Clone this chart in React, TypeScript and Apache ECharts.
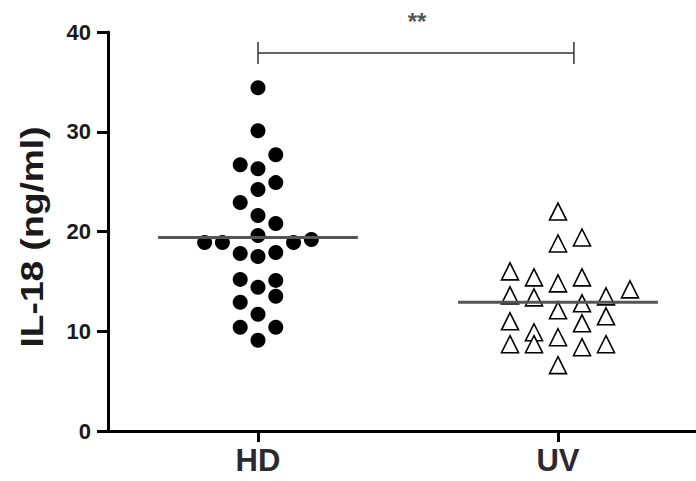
import React, { useEffect, useRef } from "react";
import * as echarts from "echarts";

const categories = ["HD", "UV"];
const yTicks = [0, 10, 20, 30, 40];

const hdValues = [34.4, 30.1, 27.7, 26.7, 26.3, 24.9, 24.2, 22.9, 21.6, 20.8, 19.6, 18.9, 18.9, 18.9, 19.2, 17.8, 17.5, 17.9, 15.2, 14.4, 15.1, 13.5, 12.9, 11.7, 10.4, 10.4, 9.1];
const hdSlots = [0, 0, 1, -1, 0, 1, 0, -1, 0, 1, 0, -3, -2, 2, 3, -1, 0, 1, -1, 0, 1, 1, -1, 0, -1, 1, 0];

const uvValues = [22.0, 18.8, 19.4, 16.0, 15.4, 14.8, 15.4, 14.2, 13.6, 13.4, 13.5, 12.8, 12.1, 11.5, 11.0, 10.8, 9.9, 9.4, 8.7, 8.7, 8.4, 8.7, 6.6];
const uvSlots = [0, 0, 1, -2, -1, 0, 1, 3, -2, -1, 2, 1, 0, 2, -2, 1, -1, 0, -2, -1, 1, 2, 0];

const medians = [19.4, 12.9];
const bracketLevel = 37.9;
const bracketEnds = [1.0, 2.053];
const significance = "**";

const HD_STEP = 0.0593;
const UV_STEP = 0.08;
const MEDIAN_HALF = 0.333;
const BRACKET_TICK = 1.1;

const FONT = "'Liberation Sans', Arial, sans-serif";

export default function App() {
  const ref = useRef<HTMLDivElement>(null);
  useEffect(() => {
    if (!ref.current) return;
    const chart = echarts.init(ref.current, undefined, { renderer: "svg" });

    const lineSeries = (pts: number[][], color: string, width: number) => ({
      type: "line",
      data: pts,
      showSymbol: false,
      symbol: "none",
      silent: true,
      z: 5,
      clip: false,
      lineStyle: { color, width },
    });

    chart.setOption({
      animation: false,
      backgroundColor: "#ffffff",
      grid: { left: 108, right: 0, top: 32, bottom: 50 },
      xAxis: {
        type: "value",
        min: 0.5,
        max: 2.46,
        splitLine: { show: false },
        axisLine: { show: true, onZero: true, lineStyle: { color: "#000", width: 3 } },
        axisTick: { show: true, customValues: [1, 2], length: 11, lineStyle: { color: "#000", width: 3 } },
        axisLabel: {
          customValues: [1, 2],
          formatter: (v: number) => categories[Math.round(v) - 1] ?? "",
          fontFamily: FONT,
          fontWeight: "bold",
          fontSize: 31,
          color: "#2a2a33",
          margin: 14,
        },
      },
      yAxis: {
        type: "value",
        min: yTicks[0],
        max: yTicks[yTicks.length - 1],
        interval: 10,
        splitLine: { show: false },
        axisLine: { show: true, onZero: false, lineStyle: { color: "#000", width: 3 } },
        axisTick: { show: true, length: 11, lineStyle: { color: "#000", width: 3 } },
        axisLabel: {
          fontFamily: FONT,
          fontWeight: "bold",
          fontSize: 22,
          color: "#1a1a1a",
          margin: 17,
        },
      },
      graphic: [
        {
          type: "text",
          x: 32,
          y: 237,
          rotation: Math.PI / 2,
          scaleX: 1.2,
          style: {
            text: "IL-18 (ng/ml)",
            font: `bold 31px ${FONT}`,
            fill: "#1a1a1a",
            textAlign: "center",
            textVerticalAlign: "middle",
          },
        },
        {
          type: "text",
          x: 417,
          y: 21,
          style: {
            text: significance,
            font: `bold 24px ${FONT}`,
            fill: "#555",
            textAlign: "center",
            textVerticalAlign: "middle",
          },
        },
      ],
      series: [
        {
          type: "scatter",
          symbol: "circle",
          symbolSize: 15,
          z: 3,
          itemStyle: { color: "#000", opacity: 1 },
          data: hdValues.map((v, i) => [1 + hdSlots[i] * HD_STEP, v]),
        },
        {
          type: "scatter",
          symbol: "triangle",
          symbolSize: 17,
          z: 3,
          itemStyle: { color: "#fff", borderColor: "#000", borderWidth: 1.6, opacity: 1 },
          data: uvValues.map((v, i) => [2 + uvSlots[i] * UV_STEP, v]),
        },
        ...medians.map((m, i) =>
          lineSeries([[i + 1 - MEDIAN_HALF, m], [i + 1 + MEDIAN_HALF, m]], "#555", 3)
        ),
        lineSeries([[bracketEnds[0], bracketLevel], [bracketEnds[1], bracketLevel]], "#333", 1.5),
        ...bracketEnds.map((x) =>
          lineSeries([[x, bracketLevel - BRACKET_TICK], [x, bracketLevel + BRACKET_TICK]], "#333", 1.5)
        ),
      ],
    });
    return () => chart.dispose();
  }, []);
  return (
    <div
      ref={ref}
      style={{ position: "fixed", left: 0, top: 0, width: 696, height: 481, background: "#fff" }}
    />
  );
}
